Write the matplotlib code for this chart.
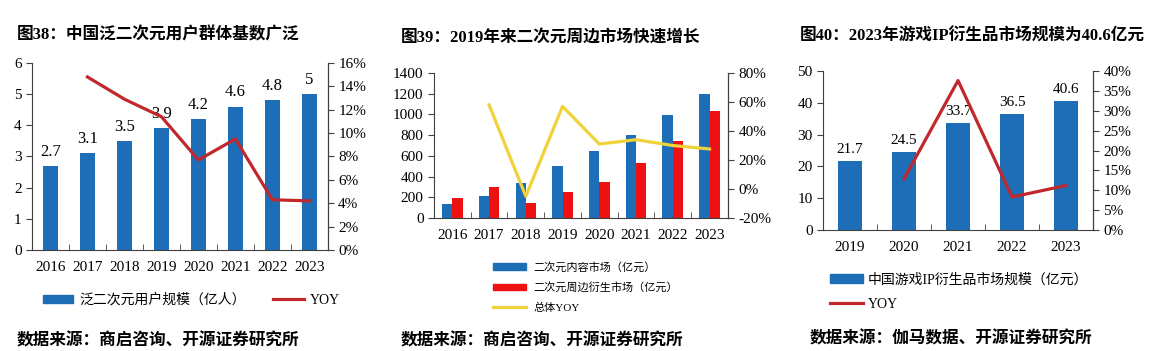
import matplotlib
matplotlib.use("Agg")
import matplotlib.pyplot as plt
from matplotlib.ticker import FuncFormatter, FixedLocator
from matplotlib.patches import Patch
from matplotlib.lines import Line2D
import numpy as np

plt.rcParams['font.family'] = ['Liberation Serif', 'Noto Sans CJK SC', 'DejaVu Sans']

# ---- data ----
years1 = ['2016', '2017', '2018', '2019', '2020', '2021', '2022', '2023']
users = [2.7, 3.1, 3.5, 3.9, 4.2, 4.6, 4.8, 5]
users_yoy = [None, 14.8, 12.9, 11.4, 7.7, 9.5, 4.3, 4.2]

years2 = ['2016', '2017', '2018', '2019', '2020', '2021', '2022', '2023']
content_mkt = [135, 210, 340, 505, 645, 805, 990, 1195]
derived_mkt = [190, 300, 145, 255, 350, 535, 745, 1030]
total_yoy = [None, 58, -5, 57, 31, 34, 30, 27.6]

years3 = ['2019', '2020', '2021', '2022', '2023']
game_ip = [21.7, 24.5, 33.7, 36.5, 40.6]
game_ip_yoy = [None, 12.9, 37.6, 8.3, 11.2]

BLUE = '#1E6DB7'
DARKRED = '#C0282D'
RED = '#EE1111'
YELLOW = '#F0D23A'
SPINE = '#404040'
CJK = ['Noto Sans CJK SC', 'Liberation Serif']
MIX = ['Liberation Serif', 'Noto Sans CJK SC']

fig = plt.figure(figsize=(11.6, 3.51), dpi=100)
pct = FuncFormatter(lambda v, p: f'{v:.0f}%')


def style(ax, ax2, n):
    ax.spines['top'].set_visible(False)
    ax2.spines['top'].set_visible(False)
    for s in ['left', 'bottom']:
        ax.spines[s].set_color(SPINE)
    ax2.spines['right'].set_color(SPINE)
    ax2.spines['left'].set_visible(False)
    ax2.spines['bottom'].set_visible(False)
    ax.set_xlim(-0.5, n - 0.5)
    ax.tick_params(axis='x', length=0, labelsize=11, pad=8)
    ax.tick_params(axis='y', direction='out', length=4, color=SPINE, labelsize=11)
    ax2.tick_params(axis='y', direction='out', length=4, color=SPINE, labelsize=11)
    ax.xaxis.set_minor_locator(FixedLocator(np.arange(0.5, n - 0.5, 1)))
    ax.tick_params(axis='x', which='minor', direction='in', length=4, color=SPINE)
    ax2.yaxis.set_major_formatter(pct)


# ---- panel 1 ----
ax1 = fig.add_axes([0.0276, 0.2877, 0.255, 0.533])
ax1b = ax1.twinx()
x1 = np.arange(len(years1))
ax1.bar(x1, users, width=0.4, color=BLUE)
for xi, v in zip(x1, users):
    ax1.text(xi, v + 0.2, f'{v:g}', ha='center', va='bottom', fontsize=12)
ax1.set_ylim(0, 6)
ax1.set_yticks(range(0, 7))
ax1.set_xticks(x1)
ax1.set_xticklabels(years1)
xs = [x for x, v in zip(x1, users_yoy) if v is not None]
ys = [v for v in users_yoy if v is not None]
ax1b.plot(xs, ys, color=DARKRED, lw=2.3)
ax1b.set_ylim(0, 16)
ax1b.set_yticks(range(0, 17, 2))
style(ax1, ax1b, len(years1))
ax1.legend([Patch(color=BLUE), Line2D([], [], color=DARKRED, lw=2.3)],
           ['泛二次元用户规模（亿人）', 'YOY'], ncol=2, frameon=False,
           loc='center left', bbox_to_anchor=(0.037, 0.145),
           bbox_transform=fig.transFigure, borderpad=0, borderaxespad=0,
           handlelength=2.2, handleheight=0.6, columnspacing=2.0,
           handletextpad=0.4, prop={'family': MIX, 'size': 10})

# ---- panel 2 ----
ax2 = fig.add_axes([0.3741, 0.379, 0.2534, 0.413])
ax2b = ax2.twinx()
x2 = np.arange(len(years2))
w = 0.28
ax2.bar(x2 - w / 2, content_mkt, width=w, color=BLUE)
ax2.bar(x2 + w / 2, derived_mkt, width=w, color=RED)
ax2.set_ylim(0, 1400)
ax2.set_yticks(range(0, 1401, 200))
ax2.set_xticks(x2)
ax2.set_xticklabels(years2)
xs = [x for x, v in zip(x2, total_yoy) if v is not None]
ys = [v for v in total_yoy if v is not None]
ax2b.plot(xs, ys, color=YELLOW, lw=2.3)
ax2b.set_ylim(-20, 80)
ax2b.set_yticks(range(-20, 81, 20))
style(ax2, ax2b, len(years2))
ax2.legend([Patch(color=BLUE), Patch(color=RED), Line2D([], [], color=YELLOW, lw=2.3)],
           ['二次元内容市场（亿元）', '二次元周边衍生市场（亿元）', '总体YOY'],
           frameon=False, loc='center left', bbox_to_anchor=(0.425, 0.182),
           bbox_transform=fig.transFigure, borderpad=0, borderaxespad=0,
           handlelength=3.0, handleheight=0.55, labelspacing=0.85,
           handletextpad=0.6, prop={'family': MIX, 'size': 8})

# ---- panel 3 ----
ax3 = fig.add_axes([0.7095, 0.3447, 0.2328, 0.453])
ax3b = ax3.twinx()
x3 = np.arange(len(years3))
ax3.bar(x3, game_ip, width=0.43, color=BLUE)
for xi, v in zip(x3, game_ip):
    ax3.text(xi, v + 1.5, f'{v:g}', ha='center', va='bottom', fontsize=11)
ax3.set_ylim(0, 50)
ax3.set_yticks(range(0, 51, 10))
ax3.set_xticks(x3)
ax3.set_xticklabels(years3)
xs = [x for x, v in zip(x3, game_ip_yoy) if v is not None]
ys = [v for v in game_ip_yoy if v is not None]
ax3b.plot(xs, ys, color=DARKRED, lw=2.3)
ax3b.set_ylim(0, 40)
ax3b.set_yticks(range(0, 41, 5))
style(ax3, ax3b, len(years3))
ax3.legend([Patch(color=BLUE), Line2D([], [], color=DARKRED, lw=2.3)],
           ['中国游戏IP衍生品市场规模（亿元）', 'YOY'],
           frameon=False, loc='center left', bbox_to_anchor=(0.7155, 0.168),
           bbox_transform=fig.transFigure, borderpad=0, borderaxespad=0,
           handlelength=2.4, handleheight=0.6, labelspacing=0.8,
           handletextpad=0.3, prop={'family': MIX, 'size': 10})

# ---- titles and sources ----
fig.text(0.0147, 0.900, '图38：中国泛二次元用户群体基数广泛', fontsize=12,
         fontweight='bold', family=MIX, va='center')
fig.text(0.3457, 0.889, '图39：2019年来二次元周边市场快速增长', fontsize=12,
         fontweight='bold', family=MIX, va='center')
fig.text(0.6897, 0.895, '图40：2023年游戏IP衍生品市场规模为40.6亿元', fontsize=12,
         fontweight='bold', family=MIX, va='center')
fig.text(0.0147, 0.031, '数据来源：商启咨询、开源证券研究所', fontsize=12,
         fontweight='bold', family=CJK, va='center')
fig.text(0.345, 0.031, '数据来源：商启咨询、开源证券研究所', fontsize=12,
         fontweight='bold', family=CJK, va='center')
fig.text(0.698, 0.037, '数据来源：伽马数据、开源证券研究所', fontsize=12,
         fontweight='bold', family=CJK, va='center')

fig.savefig('out.png', dpi=100)
